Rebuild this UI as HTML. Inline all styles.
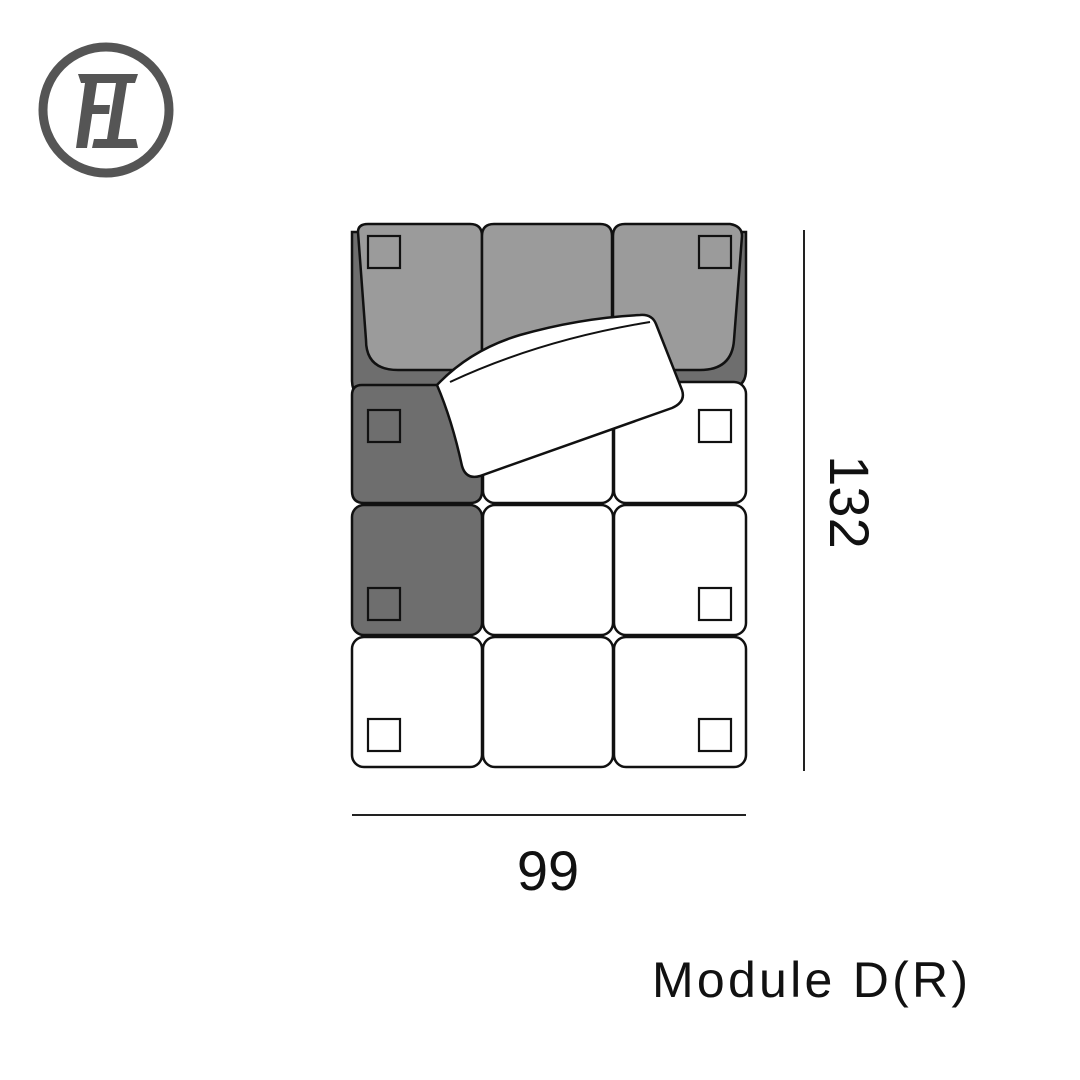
<!DOCTYPE html>
<html><head><style>
html,body{margin:0;padding:0;background:#fff;}
svg{display:block;}
</style></head><body>
<svg width="1080" height="1080" viewBox="0 0 1080 1080" xmlns="http://www.w3.org/2000/svg">
<!-- logo -->
<circle cx="106" cy="110" r="63" fill="none" stroke="#555" stroke-width="9"/>
<g fill="#555">
<polygon points="78,74 138,74 135,83 81,83"/>
<polygon points="85,83 97,83 87,148 76,148"/>
<polygon points="90,105 110,105 109,114 89,114"/>
<polygon points="116,83 127,83 118,139 107,139"/>
<polygon points="94,139 136,139 138,148 92,148"/>
</g>
<g stroke="#111" stroke-width="2.5">
<path d="M352,232 L746,232 L746,370 Q746,388 728,388 L600,388 L480,400 L372,400 Q352,400 352,380 Z" fill="#6e6e6e"/>
<path d="M358,232 Q358,224 368,224 L470,224 Q482,224 482,236 L482,370 L398,370 Q366,370 366,340 Z" fill="#9b9b9b"/>
<path d="M482,236 Q482,224 494,224 L600,224 Q612,224 612,236 L612,370 L482,370 Z" fill="#9b9b9b"/>
<path d="M613,236 Q613,224 625,224 L730,224 Q742,226 742,236 L734,340 Q732,370 700,370 L613,370 Z" fill="#9b9b9b"/>
<path d="M352,395 Q352,385 362,385 L470,385 Q482,385 482,397 L482,491 Q482,503 470,503 L364,503 Q352,503 352,491 Z" fill="#6e6e6e"/>
<rect x="483" y="385" width="130" height="118" rx="12" fill="#fff"/>
<rect x="614" y="382" width="132" height="121" rx="12" fill="#fff"/>
<rect x="352" y="505" width="130" height="130" rx="12" fill="#6e6e6e"/>
<rect x="483" y="505" width="130" height="130" rx="12" fill="#fff"/>
<rect x="614" y="505" width="132" height="130" rx="12" fill="#fff"/>
<rect x="352" y="637" width="130" height="130" rx="12" fill="#fff"/>
<rect x="483" y="637" width="130" height="130" rx="12" fill="#fff"/>
<rect x="614" y="637" width="132" height="130" rx="12" fill="#fff"/>
<g fill="none" stroke-width="2.2">
<rect x="368" y="236" width="32" height="32"/>
<rect x="699" y="236" width="32" height="32"/>
<rect x="368" y="410" width="32" height="32"/>
<rect x="699" y="410" width="32" height="32"/>
<rect x="368" y="588" width="32" height="32"/>
<rect x="699" y="588" width="32" height="32"/>
<rect x="368" y="719" width="32" height="32"/>
<rect x="699" y="719" width="32" height="32"/>
</g>
<path d="M437,385 Q470,350 520,335 Q580,318 640,315 Q652,314 656,324 L682,390 Q686,402 672,408 L480,476 Q466,480 462,466 Q452,420 437,385 Z" fill="#fff"/>
<path d="M450,382 Q540,340 650,322" fill="none" stroke-width="2"/>
</g>
<line x1="804" y1="230" x2="804" y2="771" stroke="#222" stroke-width="2"/>
<line x1="352" y1="815" x2="746" y2="815" stroke="#222" stroke-width="2"/>
<text x="548" y="890" font-family="Liberation Sans, sans-serif" font-size="56" text-anchor="middle" fill="#111">99</text>
<text transform="translate(830,502) rotate(90)" font-family="Liberation Sans, sans-serif" font-size="56" text-anchor="middle" fill="#111">132</text>
<text x="652" y="997" font-family="Liberation Sans, sans-serif" font-size="50" textLength="316" lengthAdjust="spacing" fill="#111">Module D(R)</text>
</svg>
</body></html>
